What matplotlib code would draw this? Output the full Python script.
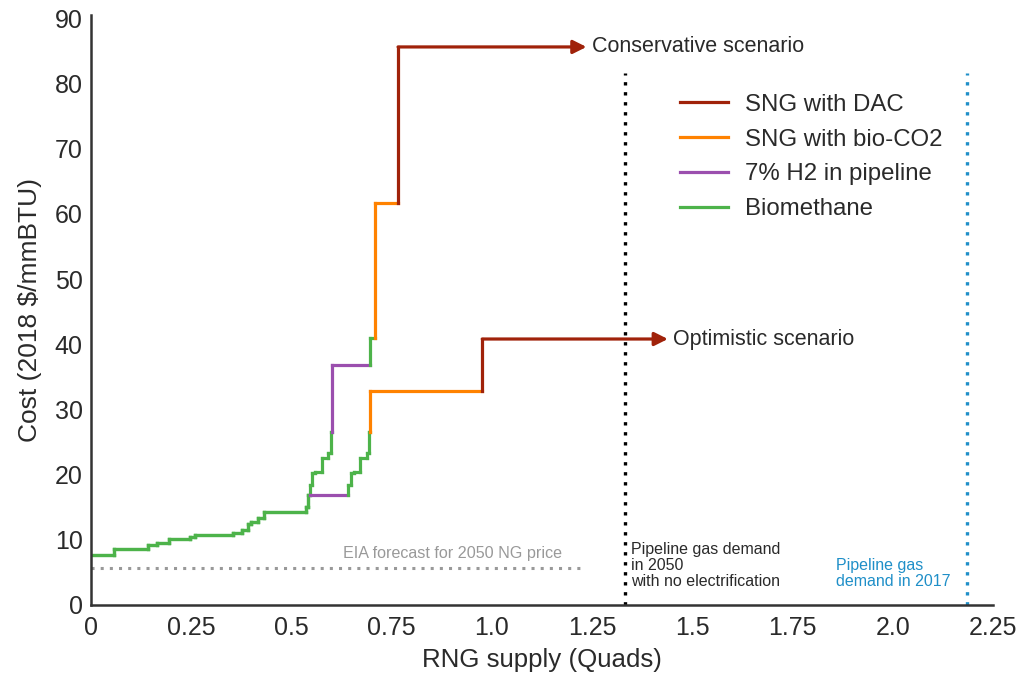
import matplotlib
matplotlib.use("Agg")
import matplotlib.pyplot as plt
import numpy as np

plt.rcParams['font.family'] = ['Liberation Sans', 'DejaVu Sans']

# --- data: supply tranches (width in Quads, cost in 2018 $/mmBTU) ---
bio_width = [0.058, 0.085, 0.022, 0.030, 0.052, 0.013, 0.094, 0.022, 0.016, 0.008,
             0.017, 0.014, 0.106, 0.005, 0.004, 0.006, 0.008, 0.015, 0.017, 0.006,
             0.002, 0.012]
bio_cost = [7.7, 8.6, 9.2, 9.5, 10.2, 10.5, 10.7, 11.0, 11.5, 12.4,
            12.8, 13.3, 14.3, 15.1, 16.8, 18.4, 20.2, 20.4, 22.5, 23.3,
            26.6, 40.9]

scenarios = ["Conservative scenario", "Optimistic scenario"]
h2_width = [0.096, 0.096]
h2_cost = [36.8, 16.9]
bioco2_width = [0.058, 0.280]
bioco2_cost = [61.7, 32.9]
dac_width = [0.470, 0.463]   # open ended, drawn as arrow
dac_cost = [85.6, 40.8]

eia_price = 5.6
demand_2050 = 1.332
demand_2017 = 2.185

x_ticks = [0, 0.25, 0.5, 0.75, 1.0, 1.25, 1.5, 1.75, 2.0, 2.25]
x_ticklabels = ["0", "0.25", "0.5", "0.75", "1.0", "1.25", "1.5", "1.75", "2.0", "2.25"]
y_ticks = [0, 10, 20, 30, 40, 50, 60, 70, 80, 90]

colors = {"dac": "#a0220a", "bioco2": "#ff8200", "h2": "#9b4fae", "bio": "#4db34a"}
text_col = "#2a2a2a"
lw = 2.3

fig = plt.figure(figsize=(10.21, 6.74), dpi=100)
ax = fig.add_axes([91 / 1021, 1 - 605 / 674, (993 - 91) / 1021, (605 - 15) / 674])

for i, name in enumerate(scenarios):
    tranches = [(w, c, "bio") for w, c in zip(bio_width, bio_cost)]
    tranches += [(h2_width[i], h2_cost[i], "h2"),
                 (bioco2_width[i], bioco2_cost[i], "bioco2"),
                 (dac_width[i], dac_cost[i], "dac")]
    tranches.sort(key=lambda t: t[1])
    q = 0.0
    prev = None
    for w, c, kind in tranches:
        col = colors[kind]
        if prev is not None:
            ax.plot([q, q], [prev, c], color=col, lw=lw, solid_capstyle='projecting',
                    solid_joinstyle='miter')
        if kind == "dac":
            ax.annotate("", xy=(q + w, c), xytext=(q, c),
                        arrowprops=dict(arrowstyle='-|>', color=col, lw=lw,
                                        mutation_scale=20, shrinkA=0, shrinkB=0))
            ax.text(q + w + 0.014, c, name, ha='left', va='center',
                    fontsize=15.5, color=text_col)
            break
        ax.plot([q, q + w], [c, c], color=col, lw=lw, solid_capstyle='projecting')
        q += w
        prev = c

# reference lines
ax.plot([0, 1.236], [eia_price, eia_price], color="#999999", lw=2.2,
        linestyle=(0, (1, 2)))
ax.text(0.628, 7.9, "EIA forecast for 2050 NG price", color="#999999",
        fontsize=11.6, ha='left', va='center')

ax.plot([demand_2050, demand_2050], [0, 81.6], color="black", lw=2.4,
        linestyle=(0, (1, 2)))
ax.text(demand_2050 + 0.016, 6.1, "Pipeline gas demand\nin 2050\nwith no electrification",
        color=text_col, fontsize=11.5, ha='left', va='center', linespacing=1.08)

ax.plot([demand_2017, demand_2017], [0, 81.6], color="#1f8fc8", lw=2.4,
        linestyle=(0, (1, 2)))
ax.text(1.858, 4.9, "Pipeline gas\ndemand in 2017", color="#1f8fc8",
        fontsize=11.5, ha='left', va='center', linespacing=1.08)

# legend
handles = [plt.Line2D([], [], color=colors[k], lw=lw) for k in ["dac", "bioco2", "h2", "bio"]]
labels = ["SNG with DAC", "SNG with bio-CO2", "7% H2 in pipeline", "Biomethane"]
leg = ax.legend(handles, labels, loc='upper left', bbox_to_anchor=(0.629, 0.903),
                frameon=False, fontsize=17.3, handlelength=2.0, handletextpad=0.72,
                labelspacing=0.53)
for t in leg.get_texts():
    t.set_color(text_col)

ax.set_xlim(0, 2.25)
ax.set_ylim(0, 90.5)
ax.set_xticks(x_ticks)
ax.set_xticklabels(x_ticklabels)
ax.set_yticks(y_ticks)
ax.tick_params(length=0, labelsize=18, labelcolor=text_col)
ax.tick_params(axis='x', pad=8)
ax.tick_params(axis='y', pad=6)
for s in ["top", "right"]:
    ax.spines[s].set_visible(False)
for s in ["left", "bottom"]:
    ax.spines[s].set_linewidth(1.8)
    ax.spines[s].set_color("#333333")
ax.set_xlabel("RNG supply (Quads)", fontsize=18.6, color=text_col, labelpad=6)
ax.set_ylabel("Cost (2018 $/mmBTU)", fontsize=19, color=text_col, labelpad=9)

fig.savefig("out.png", dpi=100)
